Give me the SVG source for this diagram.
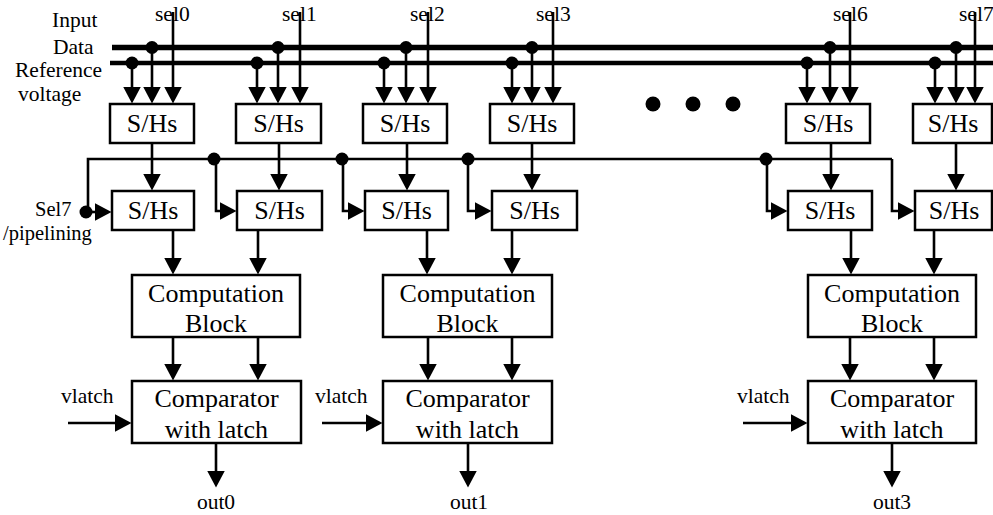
<svg xmlns="http://www.w3.org/2000/svg" width="993" height="515" viewBox="0 0 993 515">
  <style>
    .box { fill: #fff; stroke: #000; stroke-width: 2.5; }
    .ln { fill: none; stroke: #000; stroke-width: 2.6; }
    .arr { fill: none; stroke: #000; stroke-width: 2.6; marker-end: url(#head); }
    .dot { fill: #000; }
    .lbl { font-family: "Liberation Serif", "Times New Roman", serif; font-size: 21.5px; fill: #000; }
    .sm { font-size: 20.5px; }
    .btx { font-family: "Liberation Serif", "Times New Roman", serif; font-size: 26px; fill: #000; text-anchor: middle; }
    .mid { text-anchor: middle; }
  </style>
  <defs>
    <marker id="head" markerUnits="userSpaceOnUse" markerWidth="18" markerHeight="18" refX="0.5" refY="9" orient="auto">
      <path d="M0,0 L17,9 L0,18 Z" fill="#000"/>
    </marker>
  </defs>
  <rect width="993" height="515" fill="#fff"/>

  <!-- side labels -->
  <g id="labels">
    <text class="lbl" x="52" y="27">Input</text>
    <text class="lbl" x="53" y="54">Data</text>
    <text class="lbl" x="15" y="77">Reference</text>
    <text class="lbl" x="18" y="101">voltage</text>
    <text class="lbl" x="155" y="21">sel0</text>
    <text class="lbl" x="282" y="21">sel1</text>
    <text class="lbl" x="410" y="21">sel2</text>
    <text class="lbl" x="536" y="21">sel3</text>
    <text class="lbl" x="833" y="21">sel6</text>
    <text class="lbl" x="959" y="21">sel7</text>
    <text class="lbl sm" x="35" y="216">Sel7</text>
    <text class="lbl sm" x="3" y="240">/pipelining</text>
    <text class="lbl" x="61" y="403">vlatch</text>
    <text class="lbl" x="315" y="403">vlatch</text>
    <text class="lbl" x="737" y="403">vlatch</text>
    <text class="lbl mid" x="216" y="509">out0</text>
    <text class="lbl mid" x="469" y="509">out1</text>
    <text class="lbl mid" x="892" y="509">out3</text>
  </g>

  <!-- wiring -->
  <g id="connectors">
    <!-- input data and reference voltage buses -->
    <line x1="112" y1="47.5" x2="993" y2="47.5" stroke="#000" stroke-width="5.5"/>
    <line x1="110" y1="63" x2="993" y2="63" stroke="#000" stroke-width="4.5"/>

    <!-- reference taps -->
    <line class="arr" x1="132" y1="63" x2="132" y2="87"/>
    <line class="arr" x1="257" y1="63" x2="257" y2="87"/>
    <line class="arr" x1="384" y1="63" x2="384" y2="87"/>
    <line class="arr" x1="512" y1="63" x2="512" y2="87"/>
    <line class="arr" x1="807" y1="63" x2="807" y2="87"/>
    <line class="arr" x1="935" y1="63" x2="935" y2="87"/>
    <!-- data taps -->
    <line class="arr" x1="152" y1="47" x2="152" y2="87"/>
    <line class="arr" x1="278" y1="47" x2="278" y2="87"/>
    <line class="arr" x1="406" y1="47" x2="406" y2="87"/>
    <line class="arr" x1="532" y1="47" x2="532" y2="87"/>
    <line class="arr" x1="830" y1="47" x2="830" y2="87"/>
    <line class="arr" x1="956" y1="47" x2="956" y2="87"/>
    <!-- select lines -->
    <line class="arr" x1="173" y1="12" x2="173" y2="87"/>
    <line class="arr" x1="300" y1="12" x2="300" y2="87"/>
    <line class="arr" x1="428" y1="12" x2="428" y2="87"/>
    <line class="arr" x1="553" y1="12" x2="553" y2="87"/>
    <line class="arr" x1="850" y1="12" x2="850" y2="87"/>
    <line class="arr" x1="975" y1="12" x2="975" y2="87"/>

    <circle class="dot" cx="132" cy="63" r="6.5"/>
    <circle class="dot" cx="257" cy="63" r="6.5"/>
    <circle class="dot" cx="384" cy="63" r="6.5"/>
    <circle class="dot" cx="512" cy="63" r="6.5"/>
    <circle class="dot" cx="807" cy="63" r="6.5"/>
    <circle class="dot" cx="935" cy="63" r="6.5"/>
    <circle class="dot" cx="152" cy="47.5" r="6.5"/>
    <circle class="dot" cx="278" cy="47.5" r="6.5"/>
    <circle class="dot" cx="406" cy="47.5" r="6.5"/>
    <circle class="dot" cx="532" cy="47.5" r="6.5"/>
    <circle class="dot" cx="830" cy="47.5" r="6.5"/>
    <circle class="dot" cx="956" cy="47.5" r="6.5"/>

    <!-- ellipsis between stages -->
    <circle class="dot" cx="653" cy="104" r="7.5"/>
    <circle class="dot" cx="693" cy="104" r="7.5"/>
    <circle class="dot" cx="733" cy="104" r="7.5"/>

    <!-- first S/H stage to second S/H stage -->
    <line class="arr" x1="152" y1="143" x2="152" y2="174"/>
    <line class="arr" x1="279" y1="143" x2="279" y2="174"/>
    <line class="arr" x1="407" y1="143" x2="407" y2="174"/>
    <line class="arr" x1="532" y1="143" x2="532" y2="174"/>
    <line class="arr" x1="831" y1="143" x2="831" y2="174"/>
    <line class="arr" x1="956" y1="143" x2="956" y2="174"/>

    <!-- Sel7 / pipelining bus -->
    <path class="ln" d="M88,212 V159 H892"/>
    <path class="arr" d="M892,159 V211 H898"/>
    <path class="arr" d="M86,212 H95"/>
    <path class="arr" d="M216,159 V211 H220"/>
    <path class="arr" d="M343,159 V211 H348"/>
    <path class="arr" d="M468,159 V211 H475"/>
    <path class="arr" d="M767,159 V211 H771"/>
    <circle class="dot" cx="86" cy="212" r="6.5"/>
    <circle class="dot" cx="214" cy="159" r="6.5"/>
    <circle class="dot" cx="342" cy="159" r="6.5"/>
    <circle class="dot" cx="468" cy="159" r="6.5"/>
    <circle class="dot" cx="766" cy="159" r="6.5"/>

    <!-- second S/H stage to computation blocks -->
    <line class="arr" x1="173" y1="230" x2="173" y2="258"/>
    <line class="arr" x1="258" y1="230" x2="258" y2="258"/>
    <line class="arr" x1="427" y1="230" x2="427" y2="258"/>
    <line class="arr" x1="512" y1="230" x2="512" y2="258"/>
    <line class="arr" x1="851" y1="230" x2="851" y2="258"/>
    <line class="arr" x1="934" y1="230" x2="934" y2="258"/>

    <!-- computation blocks to comparators -->
    <line class="arr" x1="173" y1="337" x2="173" y2="364"/>
    <line class="arr" x1="258" y1="337" x2="258" y2="364"/>
    <line class="arr" x1="428" y1="337" x2="428" y2="364"/>
    <line class="arr" x1="512" y1="337" x2="512" y2="364"/>
    <line class="arr" x1="850" y1="337" x2="850" y2="364"/>
    <line class="arr" x1="934" y1="337" x2="934" y2="364"/>

    <!-- vlatch inputs -->
    <line class="arr" x1="68" y1="423" x2="115" y2="423"/>
    <line class="arr" x1="322" y1="423" x2="366" y2="423"/>
    <line class="arr" x1="743" y1="423" x2="791" y2="423"/>

    <!-- outputs -->
    <line class="arr" x1="216" y1="443" x2="216" y2="471"/>
    <line class="arr" x1="468" y1="443" x2="468" y2="471"/>
    <line class="arr" x1="892" y1="443" x2="892" y2="471"/>
  </g>

  <!-- first S/H stage -->
  <g id="sh-a0"><rect class="box" x="110" y="104" width="84" height="39"/><text class="btx" x="152" y="132">S/Hs</text></g>
  <g id="sh-a1"><rect class="box" x="236" y="104" width="85" height="39"/><text class="btx" x="278.5" y="132">S/Hs</text></g>
  <g id="sh-a2"><rect class="box" x="363" y="104" width="84" height="39"/><text class="btx" x="405" y="132">S/Hs</text></g>
  <g id="sh-a3"><rect class="box" x="490" y="104" width="84" height="39"/><text class="btx" x="532" y="132">S/Hs</text></g>
  <g id="sh-a6"><rect class="box" x="786" y="104" width="84" height="39"/><text class="btx" x="828" y="132">S/Hs</text></g>
  <g id="sh-a7"><rect class="box" x="913" y="104" width="79" height="39"/><text class="btx" x="953" y="132">S/Hs</text></g>

  <!-- second S/H stage -->
  <g id="sh-b0"><rect class="box" x="112" y="191" width="82" height="39"/><text class="btx" x="153" y="219">S/Hs</text></g>
  <g id="sh-b1"><rect class="box" x="237" y="191" width="85" height="39"/><text class="btx" x="279.5" y="219">S/Hs</text></g>
  <g id="sh-b2"><rect class="box" x="365" y="191" width="83" height="39"/><text class="btx" x="406.5" y="219">S/Hs</text></g>
  <g id="sh-b3"><rect class="box" x="492" y="191" width="85" height="39"/><text class="btx" x="534.5" y="219">S/Hs</text></g>
  <g id="sh-b6"><rect class="box" x="788" y="191" width="84" height="39"/><text class="btx" x="830" y="219">S/Hs</text></g>
  <g id="sh-b7"><rect class="box" x="915" y="191" width="77" height="39"/><text class="btx" x="954" y="219">S/Hs</text></g>

  <!-- computation blocks -->
  <g id="comp0"><rect class="box" x="132" y="275" width="168" height="62"/><text class="btx" x="216" y="302">Computation</text><text class="btx" x="216" y="332">Block</text></g>
  <g id="comp1"><rect class="box" x="383" y="275" width="169" height="62"/><text class="btx" x="467.5" y="302">Computation</text><text class="btx" x="467.5" y="332">Block</text></g>
  <g id="comp3"><rect class="box" x="808" y="275" width="168" height="62"/><text class="btx" x="892" y="302">Computation</text><text class="btx" x="892" y="332">Block</text></g>

  <!-- comparators -->
  <g id="cmp0"><rect class="box" x="132" y="381" width="169" height="62"/><text class="btx" x="216.5" y="407">Comparator</text><text class="btx" x="216.5" y="438">with latch</text></g>
  <g id="cmp1"><rect class="box" x="383" y="381" width="169" height="62"/><text class="btx" x="467.5" y="407">Comparator</text><text class="btx" x="467.5" y="438">with latch</text></g>
  <g id="cmp3"><rect class="box" x="808" y="381" width="168" height="62"/><text class="btx" x="892" y="407">Comparator</text><text class="btx" x="892" y="438">with latch</text></g>
</svg>
